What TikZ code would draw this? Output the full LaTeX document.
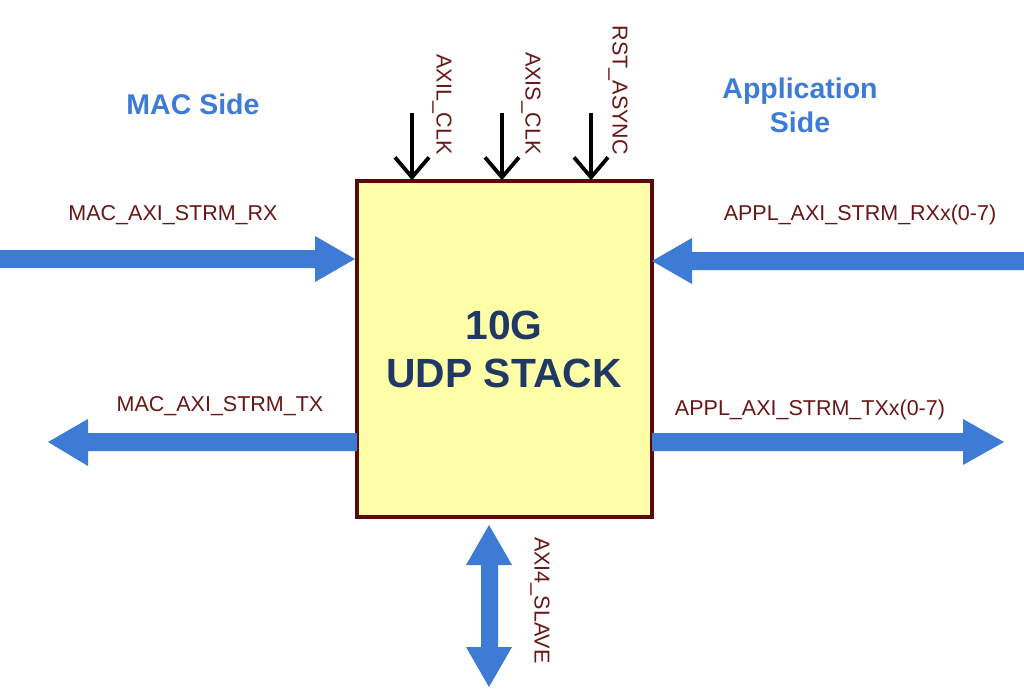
\documentclass[tikz,border=0pt]{standalone}
\usepackage{fontspec}
\setmainfont{Liberation Sans}
\usetikzlibrary{arrows.meta}
\definecolor{fatblue}{RGB}{61,123,212}
\definecolor{boxfill}{RGB}{255,255,168}
\definecolor{boxedge}{RGB}{90,10,10}
\definecolor{sigred}{RGB}{105,22,22}
\definecolor{titleblue}{RGB}{31,56,100}
\tikzset{
  sig/.style={text=sigred,font=\fontsize{21.5}{24}\selectfont,inner sep=0pt},
  side/.style={text=fatblue,font=\bfseries\fontsize{28.5}{34}\selectfont,align=center,inner sep=0pt},
  fat/.style={fill=fatblue,draw=none},
  clk/.style={draw=black,line width=3.8pt,-{Straight Barb[length=20pt,width=34pt,line width=3.8pt]}},
}
\begin{document}
\begin{tikzpicture}[x=1pt,y=-1pt]
\useasboundingbox (0,0) rectangle (1024,696);
% main block
\node[draw=boxedge,fill=boxfill,line width=3.5pt,minimum width=295pt,minimum height=336pt,inner sep=0pt] (udp) at (504.5,349) {};
\node[text=titleblue,font=\bfseries\fontsize{40.8}{48}\selectfont,align=center] (title) at (504,349) {10G\\UDP STACK};
% side titles
\node[side] (mac) at (193,104) {MAC Side};
\node[side] (app) at (800,105) {Application\\Side};
% MAC RX (into box)
\fill[fat] (0,250) -- (315,250) -- (315,236) -- (355,259) -- (315,282) -- (315,268) -- (0,268) -- cycle;
\node[sig] (macrx) at (173,215) {MAC\_AXI\_STRM\_RX};
% MAC TX (out of box)
\fill[fat] (357,433) -- (88,433) -- (88,419) -- (48,442) -- (88,466) -- (88,451) -- (357,451) -- cycle;
\node[sig] (mactx) at (220,406) {MAC\_AXI\_STRM\_TX};
% APPL RX (into box)
\fill[fat] (1024,252) -- (692,252) -- (692,238) -- (652,261) -- (692,284) -- (692,270) -- (1024,270) -- cycle;
\node[sig] (apprx) at (860,215) {APPL\_AXI\_STRM\_RXx(0-7)};
% APPL TX (out of box)
\fill[fat] (652,433) -- (963,433) -- (963,419) -- (1004,442) -- (963,465) -- (963,451) -- (652,451) -- cycle;
\node[sig] (apptx) at (810,410) {APPL\_AXI\_STRM\_TXx(0-7)};
% AXI4 slave double arrow
\fill[fat] (489,525) -- (512,565) -- (498,565) -- (498,647) -- (512,647) -- (489,687) -- (466,647) -- (481,647) -- (481,565) -- (466,565) -- cycle;
\node[sig,rotate=-90,anchor=west] (axi4) at (540,537) {AXI4\_SLAVE};
% clock / reset inputs
\coordinate (c1s) at (412,113);
\coordinate (c2s) at (502,113);
\coordinate (c3s) at (591,113);
\draw[clk] (c1s) -- ([yshift=-1pt]c1s |- udp.north);
\draw[clk] (c2s) -- ([yshift=-1pt]c2s |- udp.north);
\draw[clk] (c3s) -- ([yshift=-1pt]c3s |- udp.north);
\node[sig,rotate=-90,anchor=east] (axil) at (442,155) {AXIL\_CLK};
\node[sig,rotate=-90,anchor=east] (axis) at (531,155) {AXIS\_CLK};
\node[sig,rotate=-90,anchor=east] (rst) at (618,155) {RST\_ASYNC};
\end{tikzpicture}
\end{document}
